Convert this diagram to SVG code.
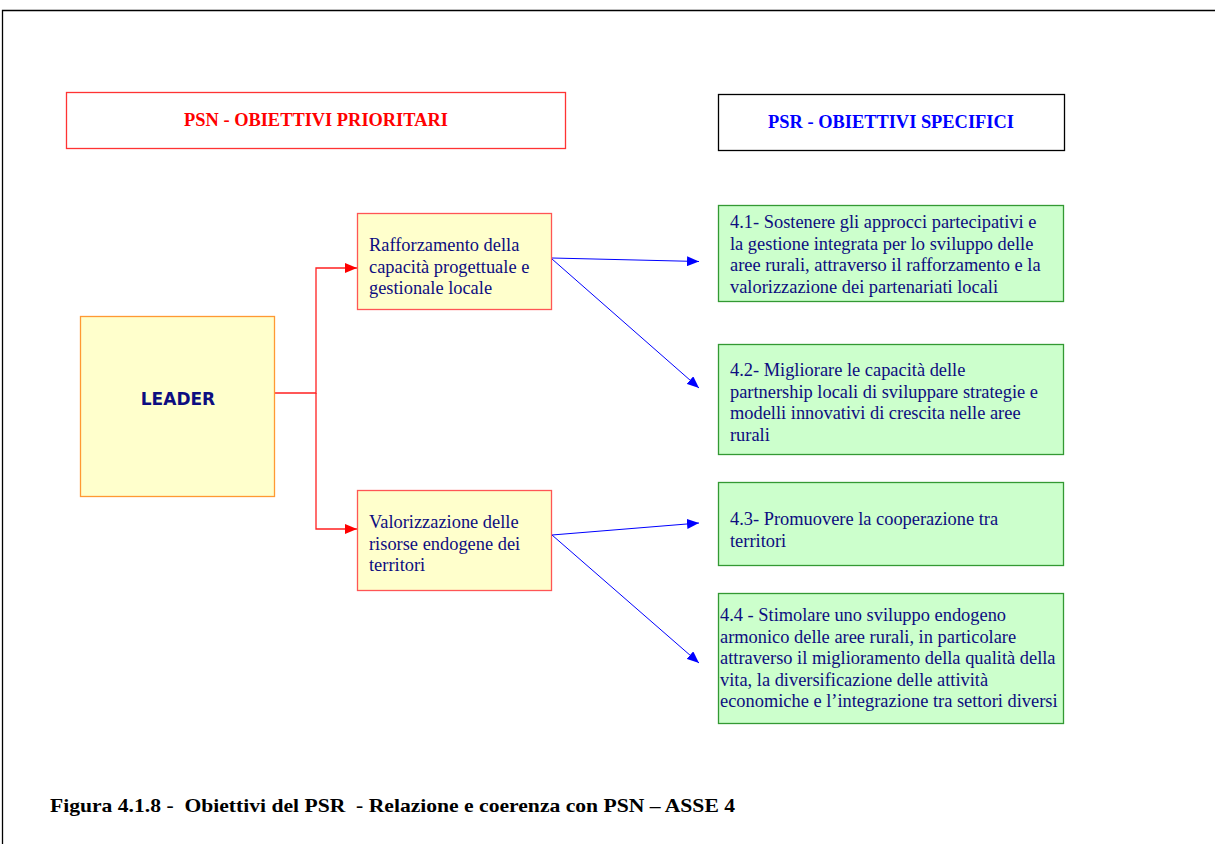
<svg xmlns="http://www.w3.org/2000/svg" width="1215" height="844" viewBox="0 0 1215 844">
<style>
.t{font-family:"Liberation Serif","Times New Roman",serif;font-size:18.4px;fill:#0d0d80}
.hd{font-family:"Liberation Serif","Times New Roman",serif;font-size:18.4px;font-weight:bold;text-anchor:middle}
.y{fill:#ffffcc;stroke:#ff5555;stroke-width:1.3}
.g{fill:#ccffcc;stroke:#339933;stroke-width:1.3}
.red{stroke:#ff2020;stroke-width:1.3;fill:none}
.blue{stroke:#0000ff;stroke-width:1;fill:none}
</style>
<defs>
<marker id="ar" viewBox="0 0 12 10" refX="12" refY="5" markerWidth="12" markerHeight="10" markerUnits="userSpaceOnUse" orient="auto"><path d="M0,0 L12,5 L0,10 z" fill="#ff0000"/></marker>
<marker id="ab" viewBox="0 0 12 10" refX="12" refY="5" markerWidth="12" markerHeight="10" markerUnits="userSpaceOnUse" orient="auto"><path d="M0,0 L12,5 L0,10 z" fill="#0000ff"/></marker>
</defs>
<rect width="1215" height="844" fill="#ffffff"/>
<path d="M2.5,844 V10.5 H1215" fill="none" stroke="#000" stroke-width="1.3"/>

<g id="hdr-psn">
<rect x="66.5" y="92.5" width="499" height="56" fill="#fff" stroke="#ff3333" stroke-width="1.3"/>
<text class="hd" x="316" y="126" fill="#ff0000">PSN - OBIETTIVI PRIORITARI</text>
</g>
<g id="hdr-psr">
<rect x="718.5" y="94.5" width="346" height="56" fill="#fff" stroke="#000" stroke-width="1.3"/>
<text class="hd" x="891" y="128" fill="#0000ff">PSR - OBIETTIVI SPECIFICI</text>
</g>

<g id="connectors">
<path class="red" d="M275,393 H316 V268 H357" marker-end="url(#ar)"/>
<path class="red" d="M316,393 V529 H357" marker-end="url(#ar)"/>
<path class="blue" d="M552,258 L699,261.5" marker-end="url(#ab)"/>
<path class="blue" d="M552,259 L699,388" marker-end="url(#ab)"/>
<path class="blue" d="M552,535 L699,523" marker-end="url(#ab)"/>
<path class="blue" d="M552,535 L699,663" marker-end="url(#ab)"/>
</g>

<g id="leader">
<rect x="80.5" y="316.5" width="194" height="180" fill="#ffffcc" stroke="#ff9933" stroke-width="1.3"/>
<text x="178" y="405" text-anchor="middle" font-family="'DejaVu Sans',Verdana,sans-serif" font-size="17" font-weight="bold" fill="#0d0d80">LEADER</text>
</g>

<g id="psn1">
<rect class="y" x="357.5" y="213.5" width="194" height="96"/>
<text class="t"><tspan x="369" y="251">Rafforzamento della</tspan><tspan x="369" y="272.5">capacità progettuale e</tspan><tspan x="369" y="294">gestionale locale</tspan></text>
</g>
<g id="psn2">
<rect class="y" x="357.5" y="490.5" width="194" height="100"/>
<text class="t"><tspan x="369" y="528">Valorizzazione delle</tspan><tspan x="369" y="549.5">risorse endogene dei</tspan><tspan x="369" y="571">territori</tspan></text>
</g>

<g id="psr41">
<rect class="g" x="718.5" y="205.5" width="345" height="96"/>
<text class="t"><tspan x="730" y="228">4.1- Sostenere gli approcci partecipativi e</tspan><tspan x="730" y="249.5">la gestione integrata per lo sviluppo delle</tspan><tspan x="730" y="271">aree rurali, attraverso il rafforzamento e la</tspan><tspan x="730" y="292.5">valorizzazione dei partenariati locali</tspan></text>
</g>
<g id="psr42">
<rect class="g" x="718.5" y="344.5" width="345" height="110"/>
<text class="t"><tspan x="730" y="376">4.2- Migliorare le capacità delle</tspan><tspan x="730" y="397.5">partnership locali di sviluppare strategie e</tspan><tspan x="730" y="419">modelli innovativi di crescita nelle aree</tspan><tspan x="730" y="440.5">rurali</tspan></text>
</g>
<g id="psr43">
<rect class="g" x="718.5" y="482.5" width="345" height="83"/>
<text class="t"><tspan x="730" y="525">4.3- Promuovere la cooperazione tra</tspan><tspan x="730" y="546.5">territori</tspan></text>
</g>
<g id="psr44">
<rect class="g" x="718.5" y="593.5" width="345" height="130"/>
<text class="t"><tspan x="720" y="621">4.4 - Stimolare uno sviluppo endogeno</tspan><tspan x="720" y="642.5">armonico delle aree rurali, in particolare</tspan><tspan x="720" y="664">attraverso il miglioramento della qualità della</tspan><tspan x="720" y="685.5">vita, la diversificazione delle attività</tspan><tspan x="720" y="707">economiche e l’integrazione tra settori diversi</tspan></text>
</g>

<text x="50" y="812" font-family="'Liberation Serif','Times New Roman',serif" font-size="19" font-weight="bold" fill="#000" textLength="685" lengthAdjust="spacingAndGlyphs" xml:space="preserve">Figura 4.1.8 -  Obiettivi del PSR  - Relazione e coerenza con PSN – ASSE 4</text>
</svg>
